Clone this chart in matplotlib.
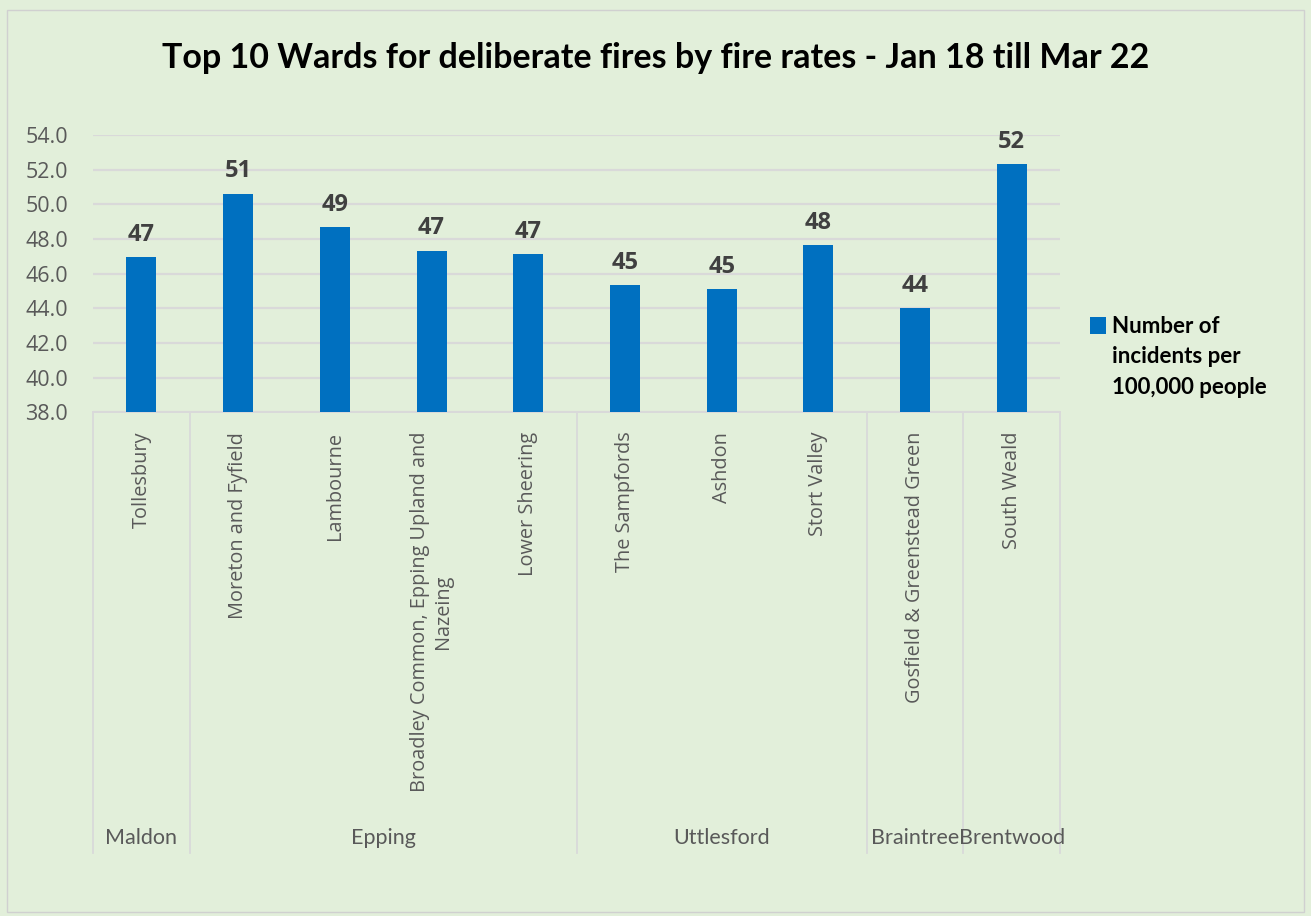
import matplotlib
matplotlib.use("Agg")
import matplotlib.pyplot as plt
import matplotlib.transforms as mtransforms
from matplotlib.patches import Rectangle

# deliberate fire rates per 100,000 people, Jan 18 - Mar 22
wards = ["Tollesbury", "Moreton and Fyfield", "Lambourne",
         "Broadley Common, Epping Upland and\nNazeing", "Lower Sheering",
         "The Sampfords", "Ashdon", "Stort Valley",
         "Gosfield & Greenstead Green", "South Weald"]
rates = [46.96, 50.63, 48.67, 47.33, 47.13, 45.35, 45.10, 47.65, 44.0, 52.33]
districts = ["Maldon", "Epping", "Uttlesford", "Braintree", "Brentwood"]
district_sizes = [1, 4, 3, 1, 1]
yticks = [38, 40, 42, 44, 46, 48, 50, 52, 54]

bg = "#E2EFDA"
blue = "#0070C0"
grid_col = "#D9D9D9"
txt_grey = "#595959"

fig = plt.figure(figsize=(13.11, 9.16), dpi=100, facecolor=bg)
fig.patches.append(Rectangle((0.005, 0.004), 0.99, 0.985, transform=fig.transFigure,
                             fill=False, edgecolor="#D0D0D0", lw=1))

ax = fig.add_axes([0.071, 0.55, 0.7376, 0.3024])
ax.set_facecolor(bg)

x = list(range(len(wards)))
ax.bar(x, rates, width=0.31, color=blue, zorder=3, label="Number of\nincidents per\n100,000 people")
ax.set_ylim(38, 54)
ax.set_xlim(-0.5, len(wards) - 0.5)
ax.set_yticks(yticks)
ax.set_yticklabels([f"{v:.1f}" for v in yticks])
for lbl in ax.get_yticklabels():
    lbl.set_fontfamily("Open Sans")
    lbl.set_fontsize(15.5)
    lbl.set_color(txt_grey)
ax.yaxis.grid(True, color=grid_col, lw=1.6, zorder=0)
ax.tick_params(axis="y", length=0, pad=18)
for s in ["left", "right", "top"]:
    ax.spines[s].set_visible(False)
ax.spines["bottom"].set_color(grid_col)
ax.spines["bottom"].set_linewidth(1.4)

# value labels
for xi, v in zip(x, rates):
    ax.text(xi, v + 0.6, f"{v:.0f}", ha="center", va="bottom", fontsize=17,
            fontweight="bold", color="#404040", family="Open Sans")

# ward labels
ax.set_xticks(x)
ax.set_xticklabels(wards, rotation=90, multialignment="center")
for lbl in ax.get_xticklabels():
    lbl.set_fontfamily("Open Sans")
    lbl.set_fontsize(14.3)
    lbl.set_color(txt_grey)
ax.tick_params(axis="x", length=0, pad=14)

# district group labels and separators
trans = mtransforms.blended_transform_factory(ax.transData, ax.transAxes)
start = -0.5
ax.plot([start, start], [0, -1.592], transform=trans, color=grid_col, lw=1.3, clip_on=False)
for name, n in zip(districts, district_sizes):
    end = start + n
    ax.plot([end, end], [0, -1.592], transform=trans, color=grid_col, lw=1.3, clip_on=False)
    ax.text((start + end) / 2, -1.538, name, transform=trans, ha="center", va="center",
            fontsize=15.5, color=txt_grey, family="Lato")
    start = end

leg = ax.legend(loc="center left", bbox_to_anchor=(1.01, 0.2), frameon=False,
                handlelength=0.75, handleheight=0.75, handletextpad=0.25,
                prop={"family": "Lato", "weight": "bold", "size": 16})
for t in leg.get_texts():
    t.set_linespacing(1.55)
# line the square up with the first line of the label
sq = leg.legend_handles[0]
sq.set_y(sq.get_y() + 23)

fig.text(0.5, 0.937, "Top 10 Wards for deliberate fires by fire rates - Jan 18 till Mar 22",
         ha="center", va="center", fontsize=24.5, fontweight="bold", family="Lato")

fig.savefig("out.png", dpi=100, facecolor=bg)
